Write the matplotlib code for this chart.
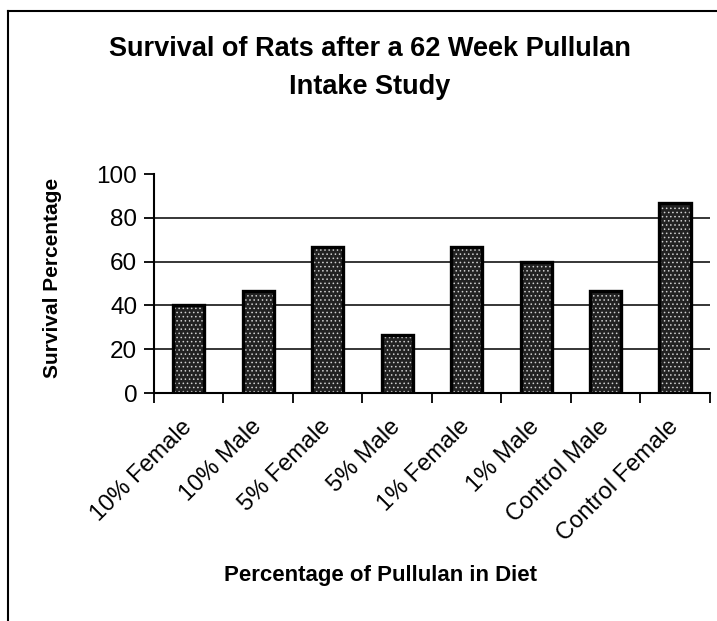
import numpy as np
import matplotlib
matplotlib.use("Agg")
import matplotlib.pyplot as plt
from matplotlib.lines import Line2D

plt.rcParams['font.family'] = ['Liberation Sans', 'DejaVu Sans']

# Data
groups = ['10% Female', '10% Male', '5% Female', '5% Male',
          '1% Female', '1% Male', 'Control Male', 'Control Female']
survival = [40.0, 46.7, 66.7, 26.7, 66.7, 60.0, 46.7, 86.7]
y_ticks = [0, 20, 40, 60, 80, 100]

fig = plt.figure(figsize=(7.17, 6.21), dpi=100)
ax = fig.add_axes([0.2148, 0.3671, 0.7752, 0.3527])

x = np.arange(len(groups))
# stippled look: dark base, white dots on top, black outline
ax.bar(x, survival, width=0.45, color='#222222', edgecolor='none', zorder=3)
plt.rcParams['hatch.linewidth'] = 0.6
ax.bar(x, survival, width=0.45, color='none', edgecolor='#d0d0d0',
       hatch='....', linewidth=0, zorder=4)
ax.bar(x, survival, width=0.45, color='none', edgecolor='black',
       linewidth=2.4, zorder=5)

ax.set_xlim(-0.5, len(groups) - 0.5)
ax.set_ylim(0, 100)
ax.set_yticks(y_ticks)
ax.tick_params(axis='y', labelsize=17.5, length=7, width=1.3, pad=5, direction='out')

ax.set_xticks(x)
ax.set_xticklabels(groups, rotation=45, ha='right', va='center',
                   rotation_mode='anchor', fontsize=17)
ax.tick_params(axis='x', which='major', length=0, pad=22)
ax.set_xticks(np.arange(len(groups) + 1) - 0.5, minor=True)
ax.tick_params(axis='x', which='minor', length=7, width=1.3, direction='out')

ax.yaxis.grid(True, color='black', linewidth=1.1)
ax.set_axisbelow(True)
ax.get_ygridlines()[-1].set_visible(False)
ax.get_ygridlines()[0].set_visible(False)

for s in ['top', 'right']:
    ax.spines[s].set_visible(False)
ax.spines['left'].set_linewidth(1.5)
ax.spines['bottom'].set_linewidth(1.5)

fig.text(0.516, 0.891, 'Survival of Rats after a 62 Week Pullulan\nIntake Study',
         ha='center', va='center', fontsize=19.5, fontweight='bold', linespacing=1.6)
fig.text(0.073, 0.552, 'Survival Percentage', rotation=90, ha='center', va='center',
         fontsize=15, fontweight='bold')
fig.text(0.53, 0.074, 'Percentage of Pullulan in Diet', ha='center', va='center',
         fontsize=16, fontweight='bold')

# outer frame (left and top edges are visible in the scan)
fig.add_artist(Line2D([0.011, 0.011], [0, 0.982], transform=fig.transFigure,
                      color='black', linewidth=1.5))
fig.add_artist(Line2D([0.011, 1.0], [0.982, 0.982], transform=fig.transFigure,
                      color='black', linewidth=1.5))

fig.savefig('out.png', dpi=100)
